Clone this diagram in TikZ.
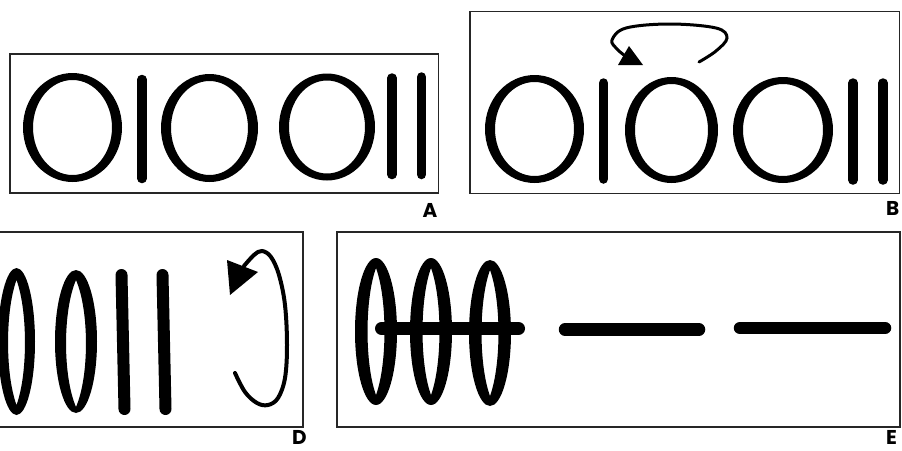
\documentclass[tikz,border=0pt]{standalone}
\usepackage{fontspec}
\newfontfamily\labfont{Poppins}
\begin{document}
\begin{tikzpicture}[x=1pt,y=-1pt,
  frame/.style={draw=black!85,line width=1.3pt},
  bar/.style={line width=9.5pt,line cap=round},
  fatbar/.style={line width=12.5pt,line cap=round},
  spin/.style={line width=3pt,line cap=round},
  ring/.style={fill=black,even odd rule},
  lbl/.style={font=\labfont\bfseries\fontsize{20}{20}\selectfont,inner sep=0pt,anchor=base west}
]
\useasboundingbox (0,0) rectangle (902,450);
\fill[white] (0,0) rectangle (902,450);

% ---------- Panel A ----------
\draw[frame] (10,54) rectangle (438.5,193);
\fill[ring] (72.5,127.5) ellipse[x radius=49.5,y radius=54.5] (72.5,127.5) ellipse[x radius=39.5,y radius=47.5];
\fill[ring] (209.5,128) ellipse[x radius=48.5,y radius=54] (209.5,128) ellipse[x radius=38.5,y radius=47];
\fill[ring] (327,127) ellipse[x radius=48,y radius=53.5] (327,127) ellipse[x radius=38,y radius=46.5];
\draw[bar] (142,79.5) -- (142,178.5);
\draw[bar] (392,78) -- (392,174.5);
\draw[bar] (421.5,77) -- (421.5,174.5);
\node[lbl] (labA) at (422.5,217) {A};

% ---------- Panel B ----------
\draw[frame] (470,11.7) rectangle (899.3,193.3);
\fill[ring] (534.5,129) ellipse[x radius=49.5,y radius=54] (534.5,129) ellipse[x radius=39.5,y radius=47];
\fill[ring] (671.5,130) ellipse[x radius=46.5,y radius=53] (671.5,130) ellipse[x radius=36.5,y radius=46];
\fill[ring] (783,130) ellipse[x radius=50,y radius=53] (783,130) ellipse[x radius=40,y radius=46];
\draw[bar] (603.5,83) -- (603.5,179);
\draw[bar] (853,83) -- (853,180);
\draw[bar] (883,83) -- (883,180);
\draw[spin] plot[smooth,tension=0.6] coordinates {(699,62) (716,51) (727,38) (716,28) (670,24) (626,28) (612,40) (617,49) (624,55)};
\fill (618,65) -- (643,65) -- (629,46) -- cycle;
\node[lbl] (labB) at (886,215) {B};

% ---------- Panel D ----------
\draw[frame] (-5,232) rectangle (303,427);
\fill[ring] (16.5,341.5) ellipse[x radius=18.5,y radius=73.5]
  (16.5,280) .. controls (27.8,311) and (27.8,374) .. (16.5,405)
  .. controls (5.2,374) and (5.2,311) .. (16.5,280) -- cycle;
\fill[ring] (76,341.5) ellipse[x radius=21,y radius=71.5]
  (76,280) .. controls (89.3,311) and (89.3,376) .. (76,407)
  .. controls (62.7,376) and (62.7,311) .. (76,280) -- cycle;
\draw[fatbar,line width=12pt] (121.5,275) -- (124.5,409);
\draw[fatbar,line width=12pt] (162.5,275) -- (165.5,409);
\draw[spin,line width=4pt] plot[smooth,tension=0.6] coordinates {(235,373) (245,392) (257,403) (268,405) (278,398) (285,378) (287,345) (285,305) (279,275) (271,257) (262,251) (254,255) (244,266)};
\fill (227,260) -- (258,272) -- (230,295) -- cycle;
\node[lbl] (labD) at (292,444) {D};

% ---------- Panel E ----------
\draw[frame] (337,232) rectangle (900,427);
\fill[ring] (376,331.5) ellipse[x radius=21,y radius=73.5]
  (376,268) .. controls (387.3,299) and (387.3,364) .. (376,395)
  .. controls (364.7,364) and (364.7,299) .. (376,268) -- cycle;
\fill[ring] (431,331.5) ellipse[x radius=21,y radius=73.5]
  (431,268) .. controls (442.3,299) and (442.3,364) .. (431,395)
  .. controls (419.7,364) and (419.7,299) .. (431,268) -- cycle;
\fill[ring] (490,333) ellipse[x radius=21,y radius=73]
  (490,270) .. controls (501.3,301) and (501.3,365) .. (490,396)
  .. controls (478.7,365) and (478.7,301) .. (490,270) -- cycle;
\draw[fatbar,line width=13pt] (381.5,328.5) -- (518.5,328.5);
\draw[fatbar,line width=12.5pt] (565,329.5) -- (699,329.5);
\draw[fatbar,line width=12.5pt] (740,328) -- (885,328);
\node[lbl] (labE) at (886,444) {E};
\end{tikzpicture}
\end{document}
